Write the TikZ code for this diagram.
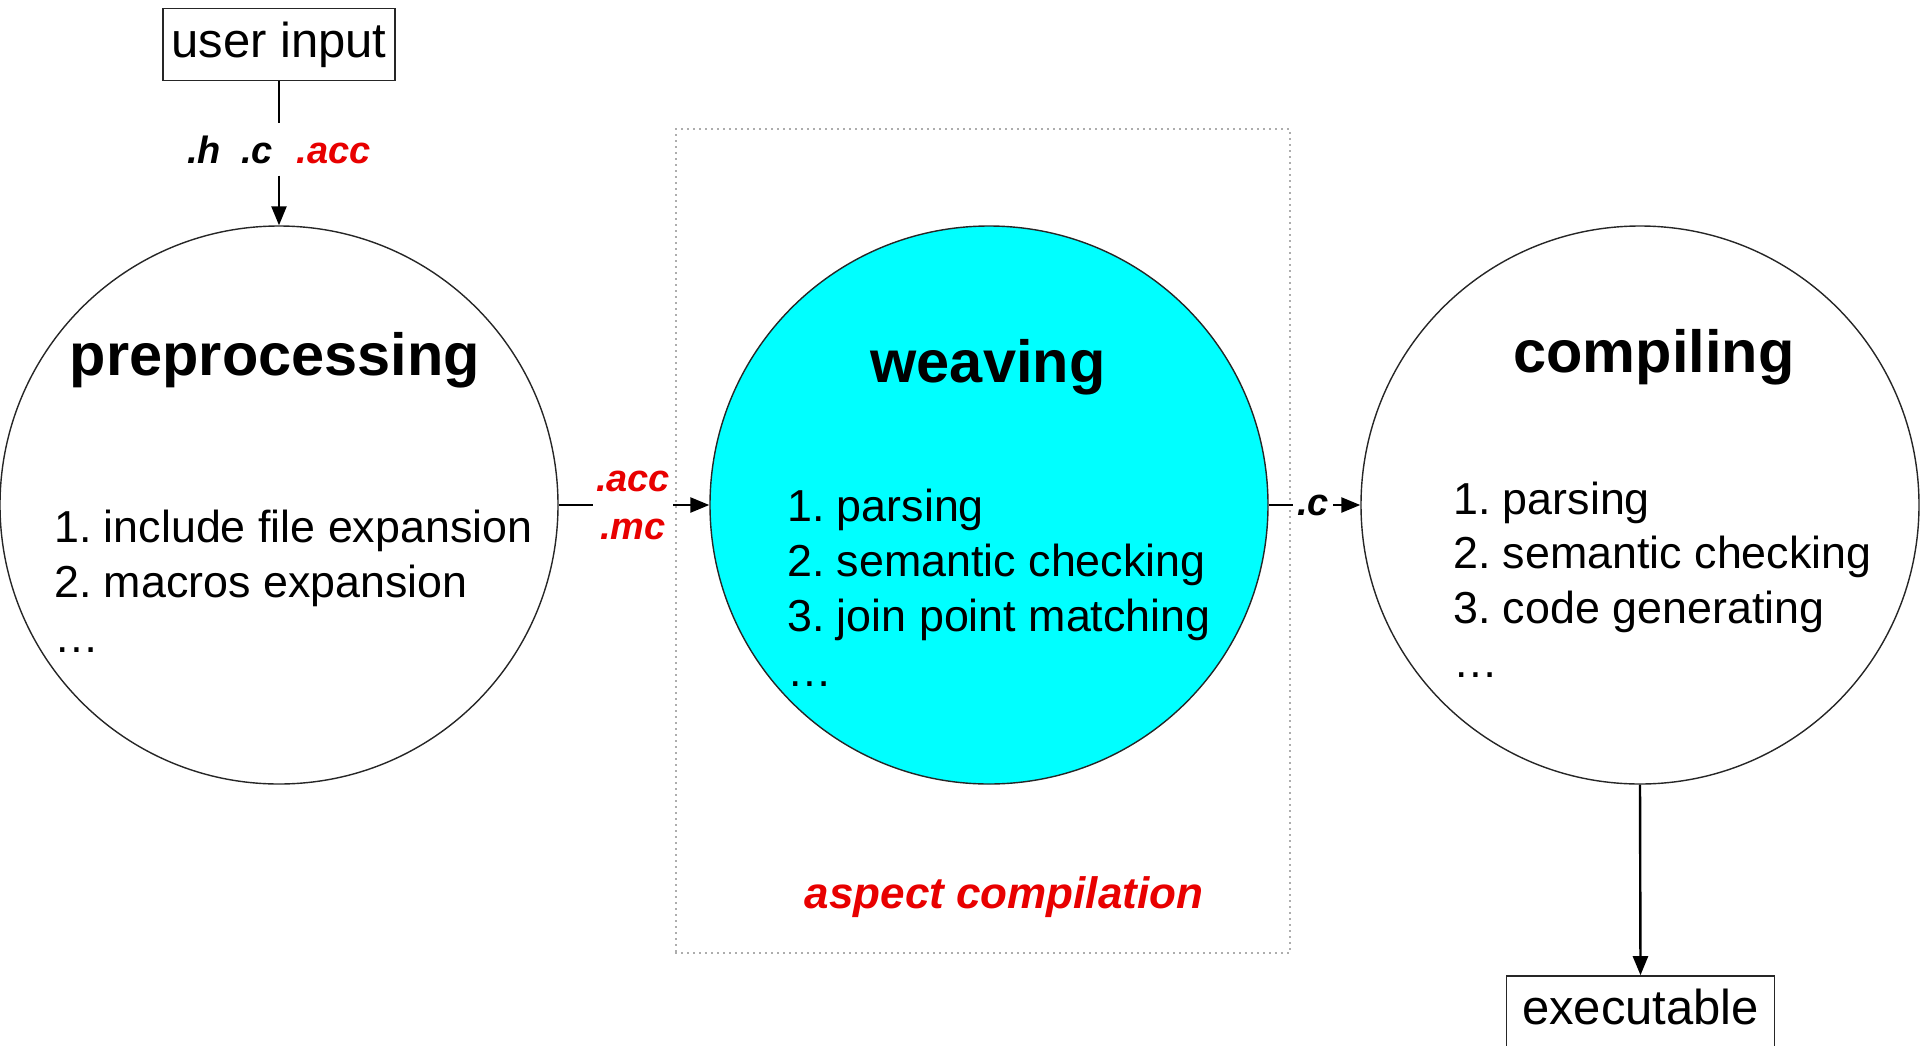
\documentclass[tikz,border=0pt]{standalone}
\usepackage{fontspec}
\setmainfont{Liberation Sans}
\usetikzlibrary{arrows.meta}
\definecolor{accred}{RGB}{232,0,0}
\definecolor{wcyan}{RGB}{0,255,255}
\definecolor{dotgray}{RGB}{90,90,90}
\frenchspacing
\begin{document}
\begin{tikzpicture}[x=1pt,y=-1pt,
  stage/.style={circle,draw=black!85,line width=1.4pt,minimum size=558pt,inner sep=0pt},
  heading/.style={font=\fontsize{59.5}{70}\selectfont\bfseries,anchor=base,inner sep=0pt},
  item/.style={font=\fontsize{44.8}{54}\selectfont,anchor=base west,inner sep=0pt},
  iobox/.style={draw=black!85,line width=1.6pt,font=\fontsize{49}{59}\selectfont,
    minimum width=232pt,minimum height=72pt,inner sep=0pt,text height=35pt,text depth=10pt},
  ext/.style={font=\fontsize{38}{48}\selectfont\bfseries\itshape,inner xsep=3pt,inner ysep=2pt,align=center},
  flow/.style={line width=2.4pt,-{Triangle[length=19pt,width=15pt]}},
  plain/.style={line width=2.4pt},
  groupbox/.style={draw=dotgray,line width=1.8pt,line cap=round,dash pattern=on 0pt off 6pt,
    minimum width=614pt,minimum height=824pt,inner sep=0pt}
]
\useasboundingbox (0,0) rectangle (1920,1045);

% aspect compilation group
\node[groupbox] (aspect) at (983,541) {};
\node[font=\fontsize{44}{54}\selectfont\bfseries\itshape,text=accred,anchor=base,inner sep=0pt]
  (aspectT) at (1004,908) {aspect compilation};

% stages
\node[stage] (pre) at (279,505) {};
\node[stage,fill=wcyan] (weave) at (989,505) {};
\node[stage] (comp) at (1640,505) {};

% headings
\node[heading] (preT) at (275,375) {preprocessing};
\node[heading] (weaveT) at (988,382) {weaving};
\node[heading] (compT) at (1654,372) {compiling};

% preprocessing items
\node[item] (pre1) at (54,542) {1. include file expansion};
\node[item] (pre2) at (54,597) {2. macros expansion};
\node[item] (pre3) at (54,652) {…};

% weaving items
\node[item] (w1) at (787,521) {1. parsing};
\node[item] (w2) at (787,576) {2. semantic checking};
\node[item] (w3) at (787,631) {3. join point matching};
\node[item] (w4) at (787,686) {…};

% compiling items
\node[item] (c1) at (1453,514) {1. parsing};
\node[item] (c2) at (1453,568) {2. semantic checking};
\node[item] (c3) at (1453,623) {3. code generating};
\node[item] (c4) at (1453,677) {…};

% input / output boxes
\node[iobox] (user) at (279,44.5) {user input};
\node[iobox,minimum width=268pt] (exec) at (1640.5,1012) {executable};

% labels on connectors
\node[ext,inner ysep=12pt] (inlab) at (279,149.5)
  {.h\hspace{20pt}.c\hspace{24pt}\textcolor{accred}{.acc}};
\node[ext,text=accred] (aclab) at (633,505) {.acc\\.mc};
\node[ext,inner xsep=4pt] (clab) at (1313,505) {.c};

% connectors
\draw[plain] (user.south) -- (inlab.north);
\draw[flow] (inlab.south) -- (pre.north);
\draw[plain] (pre.east) -- (aclab.west);
\draw[flow] (aclab.east) -- (weave.west);
\draw[plain] (weave.east) -- (clab.west);
\draw[flow] (clab.east) -- (comp.west);
\draw[flow] (comp.south) -- (exec.north);
\end{tikzpicture}
\end{document}
